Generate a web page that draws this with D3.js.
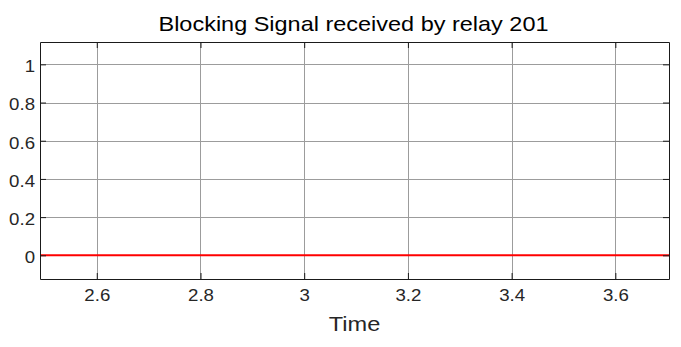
<!DOCTYPE html>
<html>
<head>
<meta charset="utf-8">
<script src="https://cdn.jsdelivr.net/npm/d3@7"></script>
<style>
  html, body { margin: 0; padding: 0; background: #ffffff; }
  svg { display: block; font-family: "Liberation Sans", Arial, Helvetica, sans-serif; }
</style>
</head>
<body>
<svg id="chart" width="681" height="347"></svg>
<script>
// ---- data ----
const time = [2.4, 3.8];
const signal = [0, 0];
const xTicks = [2.6, 2.8, 3.0, 3.2, 3.4, 3.6];
const xTickLabels = ["2.6", "2.8", "3", "3.2", "3.4", "3.6"];
const yTicks = [0, 0.2, 0.4, 0.6, 0.8, 1];
const yTickLabels = ["0", "0.2", "0.4", "0.6", "0.8", "1"];
const xDomain = [2.4905, 3.7035];
const yDomain = [-0.124, 1.117];
const titleText = "Blocking Signal received by relay 201";
const xLabelText = "Time";

// ---- layout ----
const svg = d3.select("#chart");
const pL = 40, pR = 669, pT = 42, pB = 279;

const x = d3.scaleLinear().domain(xDomain).range([pL, pR]);
const y = d3.scaleLinear().domain(yDomain).range([pB, pT]);

function stretch(sel, factor) {
  sel.each(function () {
    const n = this.getComputedTextLength();
    if (n > 0) {
      this.setAttribute("textLength", (n * factor).toFixed(2));
      this.setAttribute("lengthAdjust", "spacingAndGlyphs");
    }
  });
}

svg.append("defs").append("clipPath").attr("id", "clip")
  .append("rect").attr("x", pL).attr("y", pT)
  .attr("width", pR - pL).attr("height", pB - pT);

// grid
const gridColor = "#9c9c9c";
const grid = svg.append("g");
grid.selectAll("line.vx").data(xTicks).enter().append("line")
  .attr("x1", d => Math.round(x(d)) + 0.5).attr("x2", d => Math.round(x(d)) + 0.5)
  .attr("y1", pT).attr("y2", pB)
  .attr("stroke", gridColor).attr("stroke-width", 1);
grid.selectAll("line.hy").data(yTicks).enter().append("line")
  .attr("y1", d => Math.round(y(d)) + 0.5).attr("y2", d => Math.round(y(d)) + 0.5)
  .attr("x1", pL).attr("x2", pR)
  .attr("stroke", gridColor).attr("stroke-width", 1);

// data line
svg.append("path")
  .datum(time.map((t, i) => [t, signal[i]]))
  .attr("clip-path", "url(#clip)")
  .attr("fill", "none")
  .attr("stroke", "#ff0000")
  .attr("stroke-width", 2)
  .attr("d", d3.line().x(d => x(d[0])).y(d => y(d[1])));

// axes with inward ticks
const tl = 6;
const fmtX = (d, i) => xTickLabels[i];
const fmtY = (d, i) => yTickLabels[i];
const axisColor = "#1a1a1a";

const gB = svg.append("g").attr("transform", `translate(0,${pB})`)
  .call(d3.axisBottom(x).tickValues(xTicks).tickFormat(fmtX).tickSizeInner(-tl).tickSizeOuter(0).tickPadding(10));
const gT = svg.append("g").attr("transform", `translate(0,${pT})`)
  .call(d3.axisTop(x).tickValues(xTicks).tickFormat("").tickSizeInner(-tl).tickSizeOuter(0));
const gL = svg.append("g").attr("transform", `translate(${pL},0)`)
  .call(d3.axisLeft(y).tickValues(yTicks).tickFormat(fmtY).tickSizeInner(-tl).tickSizeOuter(0).tickPadding(5));
const gR = svg.append("g").attr("transform", `translate(${pR},0)`)
  .call(d3.axisRight(y).tickValues(yTicks).tickFormat("").tickSizeInner(-tl).tickSizeOuter(0));

[gB, gT, gL, gR].forEach(g => {
  g.select(".domain").attr("stroke", axisColor);
  g.selectAll(".tick line").attr("stroke", axisColor);
  g.selectAll("text").attr("fill", "#262626")
    .style("font-family", "'Liberation Sans', Arial, sans-serif").style("font-size", "16.5px");
});
gL.selectAll(".tick text").attr("dy", "0.45em");
stretch(gB.selectAll(".tick text"), 1.13);
stretch(gL.selectAll(".tick text"), 1.13);

// title and label
const title = svg.append("text").attr("x", (pL + pR) / 2 - 1).attr("y", 31)
  .attr("text-anchor", "middle").attr("fill", "#000")
  .style("font-size", "21px").text(titleText);
stretch(title, 1.0);
title.attr("textLength", 390);
const xl = svg.append("text").attr("x", (pL + pR) / 2).attr("y", 331)
  .attr("text-anchor", "middle").attr("fill", "#262626")
  .style("font-size", "20.5px").text(xLabelText);
stretch(xl, 1.15);
</script>
</body>
</html>
